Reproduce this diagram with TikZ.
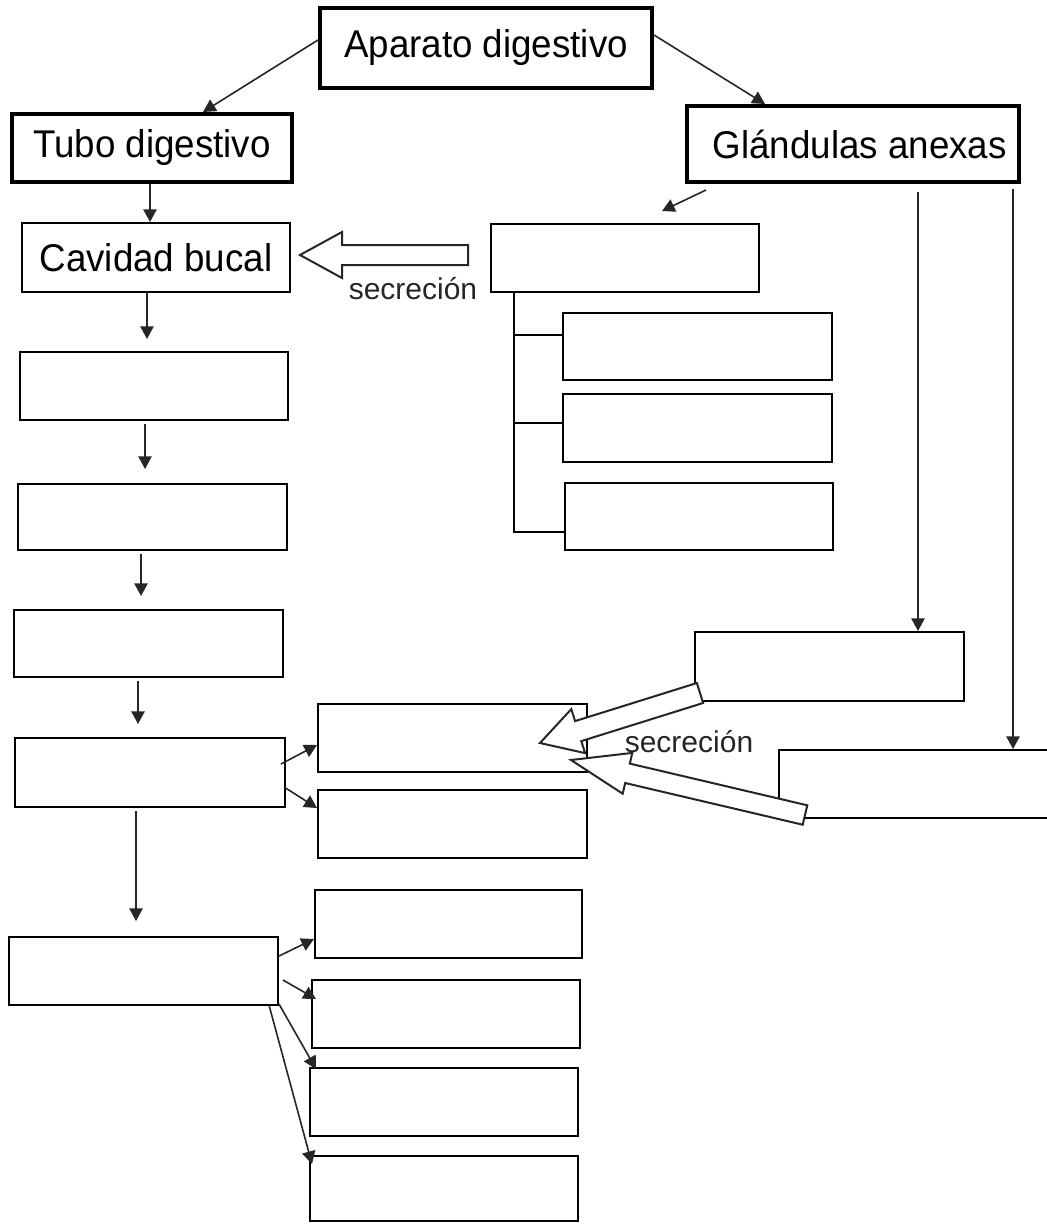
\documentclass[tikz,border=0pt]{standalone}
\usepackage{fontspec}
\setmainfont{Liberation Sans}
\newfontfamily\headfont[FakeStretch=0.95]{Liberation Sans}
\usetikzlibrary{arrows.meta,calc,fit}
\begin{document}
\begin{tikzpicture}[x=0.75pt,y=-0.75pt,
  box/.style={draw=black, line width=1.5pt, inner sep=0pt, fill=white},
  headbox/.style={box, line width=3pt},
  title/.style={font=\headfont\fontsize{29}{34}\selectfont, inner sep=0pt},
  conn/.style={draw=black!85, line width=1.2pt, -{Triangle[length=9.5pt,width=10pt]}},
  tree/.style={draw=black, line width=1.5pt},
  blockarrow/.style={draw=black!85, line width=1.5pt, fill=white, line join=miter},
  note/.style={font=\fontsize{22.5}{27}\selectfont, text=black!85}]
\useasboundingbox (0,0) rectangle (1046,1224);

% headings
\node[headbox, fit={(320,8) (652,88)}, label={[title]center:Aparato digestivo}] (apar) {};
\node[headbox, fit={(12,114) (292,182)}, label={[title]center:Tubo digestivo}] (tubo) {};
\node[headbox, fit={(687,106) (1019,182)}, label={[title, xshift=5pt]center:Glándulas anexas}] (gland) {};

% digestive tube column
\node[box, fit={(22,223) (290,292)}, label={[title]center:Cavidad bucal}] (cav) {};
\node[box, fit={(20,352) (288,420)}] (b3) {};
\node[box, fit={(18,484) (287,550)}] (b4) {};
\node[box, fit={(14,610) (283,677)}] (b5) {};
\node[box, fit={(15,738) (285,807)}] (b6) {};
\node[box, fit={(9,937) (278,1005)}] (b7) {};

% branches of the last two parts
\node[box, fit={(318,704) (587,772)}] (r1) {};
\node[box, fit={(318,790) (587,858)}] (r2) {};
\node[box, fit={(315,890) (582,958)}] (r3) {};
\node[box, fit={(312,980) (580,1048)}] (r4) {};
\node[box, fit={(310,1068) (578,1136)}] (r5) {};
\node[box, fit={(310,1156) (578,1221)}] (r6) {};

% glands
\node[box, fit={(491,224) (759,292)}] (saliv) {};
\node[box, fit={(563,313) (832,380)}] (g1) {};
\node[box, fit={(563,394) (832,462)}] (g2) {};
\node[box, fit={(565,483) (833,550)}] (g3) {};
\node[box, fit={(695,632) (964,701)}] (p1) {};
\node[box, fit={(779,750) (1060,818)}] (p2) {};

% arrows from the headings
\draw[conn] ($(apar.north west)+(0,34)$) -- ($(tubo.north west)+(193,0)$);
\draw[conn] ($(apar.north east)+(0,29)$) -- ($(gland.north west)+(80,0)$);
\draw[conn] ($(tubo.south west)+(140,0)$) coordinate (t0) -- (t0 |- cav.north);
\draw[conn] ($(gland.south west)+(21,6)$) -- ($(saliv.north west)+(172,-12)$);
\draw[conn] ($(gland.south west)+(233,8)$) coordinate (t1) -- (t1 |- p1.north);
\draw[conn] ($(gland.south west)+(328,5)$) coordinate (t2) -- (t2 |- p2.north);

% down the tube
\draw[conn] ($(cav.south west)+(126,0)$) coordinate (c0) -- ($(c0 |- b3.north)+(0,-12)$);
\draw[conn] ($(b3.south west)+(126,3)$) coordinate (c1) -- ($(c1 |- b4.north)+(0,-14)$);
\draw[conn] ($(b4.south west)+(124,3)$) coordinate (c2) -- ($(c2 |- b5.north)+(0,-13)$);
\draw[conn] ($(b5.south west)+(125,3)$) coordinate (c3) -- ($(c3 |- b6.north)+(0,-13)$);
\draw[conn] ($(b6.south west)+(122,3)$) coordinate (c4) -- ($(c4 |- b7.north)+(0,-15)$);

% side branches
\draw[conn] ($(b6.north east)+(-5,27)$) -- ($(r1.north west)+(0,42)$);
\draw[conn] ($(b6.north east)+(-2,50)$) -- ($(r2.north west)+(0,19)$);
\draw[conn] ($(b7.north east)+(0,20)$) -- ($(r3.north west)+(0,50)$);
\draw[conn] ($(b7.north east)+(4,44)$) -- ($(r4.north west)+(5,20)$);
\draw[conn] ($(b7.south east)+(0,-2)$) -- ($(r5.north west)+(7,2)$);
\draw[conn] ($(b7.south east)+(-10,-1)$) -- ($(r6.north west)+(3,9)$);

% salivary bracket
\coordinate (s0) at ($(saliv.south west)+(24,0)$);
\coordinate (g1b) at ($(g1.north west)+(0,23)$);
\coordinate (g2b) at ($(g2.north west)+(0,30)$);
\coordinate (g3b) at ($(g3.north west)+(0,50)$);
\draw[tree] (s0) |- (g3b);
\draw[tree] (s0 |- g1b) -- (g1b);
\draw[tree] (s0 |- g2b) -- (g2b);

% secretion block arrows
\draw[blockarrow] (468,245) -- (342,245) -- (342,232) -- (300,255) -- (342,278)
  -- (342,265) -- (468,265) -- cycle;
\draw[blockarrow] (696.9,683) -- (575.1,721.1) -- (571.3,709.1) -- (540,743)
  -- (585.1,753.1) -- (581.3,741.1) -- (703.1,703) -- cycle;
\draw[blockarrow] (807.3,805.3) -- (629.8,763.6) -- (632.3,752.9) -- (571,760)
  -- (622.7,793.7) -- (625.2,783) -- (802.7,824.7) -- cycle;

\node[note] (sec1) at (413,289) {secreción};
\node[note] (sec2) at (689,742) {secreción};
\end{tikzpicture}
\end{document}
